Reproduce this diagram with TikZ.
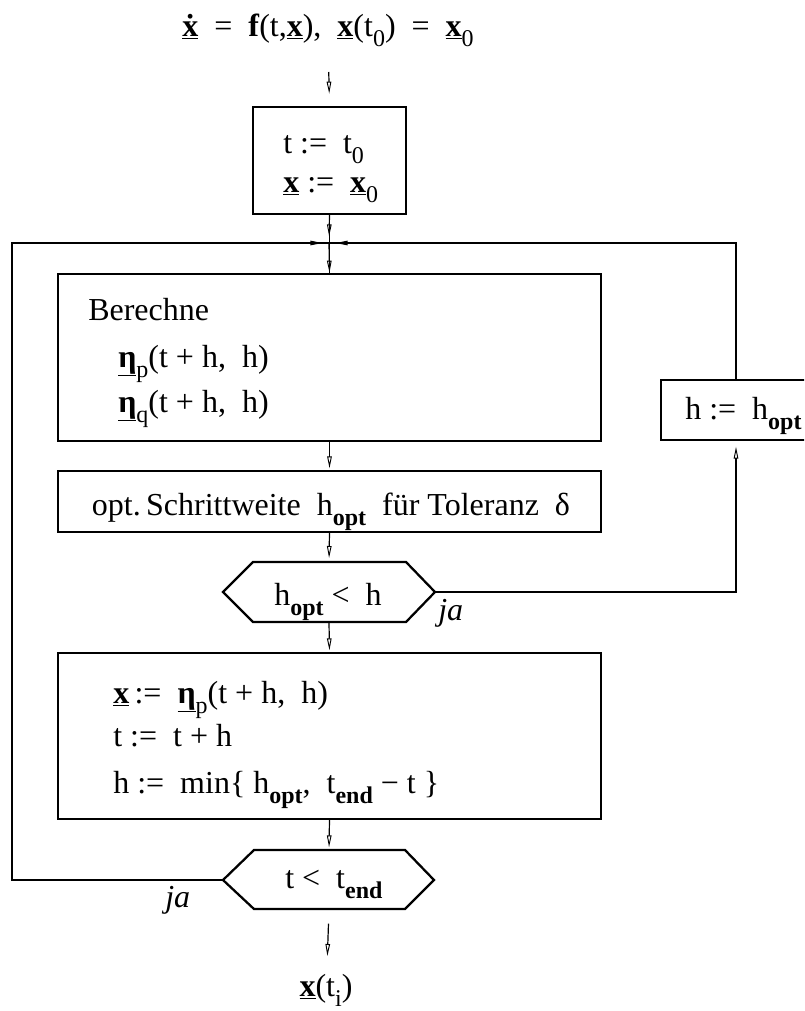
\documentclass[tikz,border=0pt]{standalone}
\usepackage{fontspec}
\setmainfont{Liberation Serif}
\usetikzlibrary{arrows.meta}
\newcommand\lo[1]{\raisebox{-0.33em}{\fontsize{18}{18}\selectfont #1}}
\newcommand\bx{\underline{\textbf{x}}}
\newcommand\ueta{\underline{\textbf{η}}}
\newcommand\xdt{\underline{\textbf{\accent"02D9 x}}}
\begin{document}
\begin{tikzpicture}[x=0.75pt,y=-0.75pt,
  font=\fontsize{24}{28}\selectfont,
  txt/.style={inner sep=0pt, anchor=base west},
  ctxt/.style={inner sep=0pt, anchor=base},
  box/.style={draw, inner sep=0pt, outer sep=0pt},
  thk/.style={line width=1.7pt},
  mid/.style={line width=1.2pt},
  thn/.style={line width=0.9pt},
  arr/.style={-{Triangle[open, length=9pt, width=3.4pt, line width=0.7pt]}}]
\useasboundingbox (0,0) rectangle (804,1011);
\clip (0,0) rectangle (804,1011);

% top formula
\node[ctxt] (eq) at (328,36) {\xdt\ \ =\ \ \textbf{f}(t,\bx),\ \ \bx(t\lo{0})\ \ =\ \ \bx\lo{0}};

% box 1
\node[box, mid, minimum width=114.75pt, minimum height=80.25pt] (b1) at (329.5,160.5) {};
\node[txt] (b1a) at (283,153) {t :=\ \ t\lo{0}};
\node[txt] (b1b) at (283,192) {\bx\ :=\ \ \bx\lo{0}};

% junction and loop corners
\coordinate (J) at (329,243);
\coordinate (TL) at (12,243);
\coordinate (TR) at (736,243);
\coordinate (BL) at (12,880);
\coordinate (RB) at (736,592);

% box 2
\node[box, thn, minimum width=407.25pt, minimum height=125.25pt] (b2) at (329.5,357.5) {};
\node[txt] (b2a) at (88,320) {Berechne};
\node[txt] (b2b) at (118,367) {\ueta\lo{p}(t\ +\ h,\ \ h)};
\node[txt] (b2c) at (118,412) {\ueta\lo{q}(t\ +\ h,\ \ h)};

% box h := h_opt
\node[box, thn, minimum width=126.75pt, minimum height=45pt] (hb) at (745.5,410) {};
\node[txt] (hbt) at (685,419) {h :=\ \ h\lo{\textbf{opt}}};

% box 3
\node[box, thn, minimum width=407.25pt, minimum height=45.75pt] (b3) at (329.5,501.5) {};
\node[ctxt] (b3t) at (331,515) {opt.\,Schrittweite\ \ h\lo{\textbf{opt}}\ \ für Toleranz\ \ δ};

% hexagon 1
\coordinate (h1w) at (223,592);
\coordinate (h1e) at (435,592);
\coordinate (h1n) at (329,562);
\coordinate (h1s) at (329,622);
\draw[thk, line join=miter] (h1w) -- (253,562) -- (406,562) -- (h1e) -- (406,622) -- (253,622) -- cycle;
\node[txt] (h1t) at (274,605) {h\lo{\textbf{opt}}\ <\ \ h};
\node[txt] (ja1) at (438,620) {\textit{ja}};

% box 4
\node[box, thk, minimum width=407.25pt, minimum height=124.5pt] (b4) at (329.5,736) {};
\node[txt] (b4a) at (113,703) {\bx\,:=\ \ \ueta\lo{p}(t\ +\ h,\ \ h)};
\node[txt] (b4b) at (113,746) {t :=\ \ t\ +\ h};
\node[txt] (b4c) at (113,793) {h :=\ \ min\{ h\lo{\textbf{opt}}, \ t\lo{\textbf{end}}\ −\ t \}};

% hexagon 2
\coordinate (h2w) at (223,880);
\coordinate (h2e) at (434,880);
\coordinate (h2n) at (329,850);
\coordinate (h2s) at (329,909);
\draw[thk, line join=miter] (h2w) -- (254,850) -- (405,850) -- (h2e) -- (405,909) -- (254,909) -- cycle;
\node[txt] (h2t) at (285,888) {t\ <\ \ t\lo{\textbf{end}}};
\node[txt] (ja2) at (165,907) {\textit{ja}};

% output
\node[ctxt] (out) at (326,996) {\bx(t\lo{i})};

% connectors
\draw[thn, arr, shorten <=27pt, shorten >=10pt] (eq.base) -- (b1.north);
\draw[thn] (b1.south) -- (b2.north);
\draw[thn, arr, shorten >=5pt] (b1.south) -- (J);
\draw[thn, arr, shorten >=1pt] (J) -- (b2.north);
\draw[thk] (h2w) -- (BL) -- (TL) -- (J);
\draw[thk, arr, shorten >=5pt] (TL) -- (J);
\draw[thk] (TR |- hb.north) -- (TR) -- (J);
\draw[thk, arr, shorten >=5pt] (TR) -- (J);
\draw[thn, arr, shorten >=5pt] (h1e) -- (RB) -- (RB |- hb.south);
\draw[thn, arr, shorten >=2pt] (b2.south) -- (b3.north);
\draw[thn, arr, shorten >=3pt] (b3.south) -- (h1n);
\draw[thn, arr, shorten >=2pt] (h1s) -- (b4.north);
\draw[thn, arr, shorten >=2pt] (b4.south) -- (h2n);
\draw[thn, arr, shorten <=11pt, shorten >=30pt] (h2s) -- (out.base);
\end{tikzpicture}
\end{document}
